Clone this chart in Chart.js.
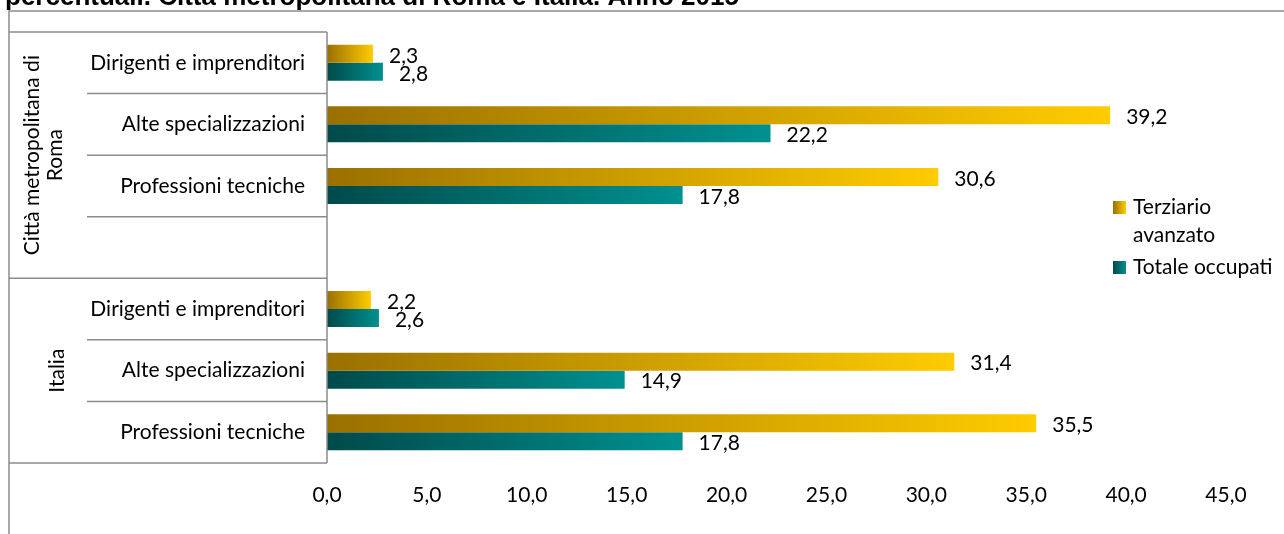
<!DOCTYPE html>
<html>
<head>
<meta charset="utf-8">
<script src="https://cdn.jsdelivr.net/npm/chart.js@4.4.1/dist/chart.umd.min.js"></script>
<style>
  body { margin: 0; background: #fff; }
  canvas { display: block; }
</style>
</head>
<body>
<canvas id="chart" width="1284" height="534"></canvas>
<script>
/* data */
const categories = ['Dirigenti e imprenditori', 'Alte specializzazioni', 'Professioni tecniche', '',
                    'Dirigenti e imprenditori', 'Alte specializzazioni', 'Professioni tecniche'];
const groupNames = [['Città metropolitana di', 'Roma'], ['Italia']];
const groupRanges = [[0, 3], [4, 6]];
const terziario = [2.3, 39.2, 30.6, null, 2.2, 31.4, 35.5];
const totale = [2.8, 22.2, 17.8, null, 2.6, 14.9, 17.8];
const seriesNames = [['Terziario', 'avanzato'], ['Totale occupati']];
const xMin = 0, xMax = 45, xStep = 5;
const titleText = 'percentuali. Città metropolitana di Roma e Italia. Anno 2015';

const FONT = 'Lato';
const GOLD = ['#9a7000', '#ffcc00'];
const TEAL = ['#004a4a', '#009090'];
const LINE = '#8c8c8c';

const fmt = v => v.toFixed(1).replace('.', ',');

// each bar gets its own left->right gradient
function barGradient(ctx, cols) {
  const chart = ctx.chart;
  const xs = chart.scales.x;
  if (!chart.chartArea || !xs || ctx.raw == null) return cols[1];
  const x0 = xs.getPixelForValue(0), x1 = xs.getPixelForValue(ctx.raw);
  if (!isFinite(x0) || !isFinite(x1) || x1 <= x0) return cols[1];
  const g = chart.ctx.createLinearGradient(x0, 0, x1, 0);
  g.addColorStop(0, cols[0]);
  g.addColorStop(1, cols[1]);
  return g;
}

const decor = {
  id: 'decor',
  afterDraw(chart) {
    const c = chart.ctx, ys = chart.scales.y, area = chart.chartArea;
    const step = (area.bottom - area.top) / categories.length;
    c.save();

    // title (cut off at the top)
    c.fillStyle = '#000';
    c.font = 'bold 26px "Liberation Sans"';
    c.textBaseline = 'alphabetic';
    c.textAlign = 'left';
    c.fillText(titleText, 5, 5);

    // outer frame
    c.strokeStyle = LINE;
    c.lineWidth = 1.5;
    c.beginPath();
    c.moveTo(9, 534); c.lineTo(9, 11); c.lineTo(1284, 11);
    c.stroke();

    // table round the category labels
    c.beginPath();
    c.moveTo(9, area.top); c.lineTo(area.left, area.top);
    c.moveTo(area.left, area.top); c.lineTo(area.left, area.bottom);
    categories.forEach((_, i) => {
      const y = ys.getPixelForValue(i) + step / 2;
      const groupEnd = groupRanges.some(r => r[1] === i) || i === groupRanges[1][0] - 1;
      c.moveTo(groupEnd ? 9 : 87, y);
      c.lineTo(area.left, y);
    });
    c.stroke();

    // group labels, rotated
    c.fillStyle = '#000';
    c.font = `21px ${FONT}`;
    c.textAlign = 'center';
    c.textBaseline = 'middle';
    const groupX = [44, 57];
    groupRanges.forEach((r, gi) => {
      const yTop = ys.getPixelForValue(r[0]) - step / 2;
      const yBot = ys.getPixelForValue(gi === 0 ? groupRanges[1][0] - 1 : r[1]) + step / 2;
      const lines = groupNames[gi];
      const lh = 23;
      c.save();
      c.translate(groupX[gi], (yTop + yBot) / 2);
      c.rotate(-Math.PI / 2);
      lines.forEach((t, li) => c.fillText(t, 0, (li - (lines.length - 1) / 2) * lh));
      c.restore();
    });

    // value labels
    c.textAlign = 'left';
    c.textBaseline = 'middle';
    chart.data.datasets.forEach((ds, di) => {
      chart.getDatasetMeta(di).data.forEach((bar, i) => {
        const v = ds.data[i];
        if (v == null) return;
        c.fillText(fmt(v), bar.x + 16, bar.y + 2);
      });
    });

    // legend
    const leg = [{ cols: GOLD, y: 207 }, { cols: TEAL, y: 267 }];
    leg.forEach((l, i) => {
      const g = c.createLinearGradient(1113, 0, 1126, 0);
      g.addColorStop(0, l.cols[0]);
      g.addColorStop(1, l.cols[1]);
      c.fillStyle = g;
      c.fillRect(1113, l.y - 6, 13, 13);
      c.fillStyle = '#000';
      seriesNames[i].forEach((t, li) => c.fillText(t, 1133, l.y + li * 28));
    });
    c.restore();
  }
};

new Chart(document.getElementById('chart'), {
  type: 'bar',
  data: {
    labels: categories,
    datasets: [
      { label: seriesNames[0].join(' '), data: terziario, backgroundColor: ctx => barGradient(ctx, GOLD) },
      { label: seriesNames[1].join(' '), data: totale, backgroundColor: ctx => barGradient(ctx, TEAL) }
    ]
  },
  options: {
    indexAxis: 'y',
    responsive: false,
    animation: false,
    categoryPercentage: 0.585,
    barPercentage: 1,
    layout: { padding: { left: 9, right: 58, top: 32, bottom: 0 } },
    plugins: { legend: { display: false }, tooltip: { enabled: false } },
    scales: {
      x: {
        min: xMin, max: xMax,
        grid: { display: false },
        border: { display: false },
        afterFit: s => { s.height = 71; },
        ticks: {
          stepSize: xStep, padding: 12, color: '#000',
          font: { family: FONT, size: 21 },
          callback: v => fmt(v)
        }
      },
      y: {
        grid: { display: false },
        border: { display: false },
        afterFit: s => { s.width = 318; },
        ticks: {
          padding: 14, color: '#000',
          font: { family: FONT, size: 21 }
        }
      }
    }
  },
  plugins: [decor]
});
</script>
</body>
</html>
